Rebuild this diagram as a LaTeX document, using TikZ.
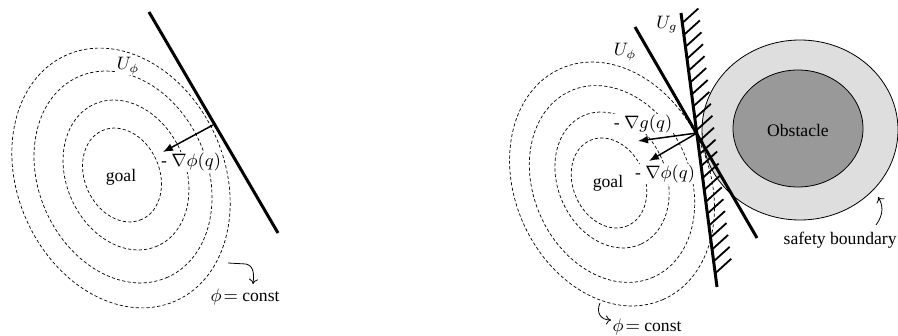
\documentclass[tikz,border=0pt]{standalone}
\usepackage{fontspec}
\setmainfont{Liberation Serif}
\usetikzlibrary{arrows.meta,calc}
\definecolor{safetygray}{gray}{0.87}
\definecolor{obstgray}{gray}{0.60}
\begin{document}
\begin{tikzpicture}[x=0.5pt,y=-0.5pt,
  contour/.style={line width=0.35pt, dash pattern=on 1.6pt off 1.1pt},
  wall/.style={line width=1.5pt},
  hatchline/.style={line width=0.9pt},
  grad/.style={line width=0.75pt,-{Latex[length=5pt,width=4pt]}},
  note/.style={line width=0.4pt,-{To[length=2.5pt,width=4.5pt]}},
  lbl/.style={inner sep=1pt, font=\fontsize{8.8}{10}\selectfont},
  wlbl/.style={lbl, fill=white, inner sep=0.5pt},
  disk/.style={line width=0.4pt}
]
\useasboundingbox (0,0) rectangle (898,336);

% ---------------- left figure ----------------
\foreach \cx/\cy/\a/\b in {122/175/48.6/37.4, 126/175/77.6/59.6, 123/177/109.7/84.3, 121/178/134.5/103.4}{
  \draw[contour, rotate around={-66:(\cx,\cy)}] (\cx,\cy) ellipse [x radius=\a, y radius=\b];
}
\coordinate (lwA) at (149,12);
\coordinate (lwB) at (278,233);
\draw[wall] (lwA) -- (lwB);

\node[wlbl] (lU) at (128,66) {$U_\phi$};
\node[lbl] (lgoal) at (121,177) {goal};
\node[wlbl] (lgrad) at (191,162) {-\ $\nabla\phi(q)$};
\node[lbl] (lconst) at (245,297) {$\phi\!=$ const};

\coordinate (lp) at (213,125);
\coordinate (lt) at (163,152);
\draw[grad] (lp) -- (lt);

\coordinate (lcs) at (228,263);
\coordinate (lcm) at (246,264);
\coordinate (lce) at (253,284);
\draw[note] (lcs) -- (lcm) .. controls (254,266) and (254,274) .. (lce);

% ---------------- right figure ----------------
\draw[disk, fill=safetygray] (800,130) ellipse [x radius=98, y radius=90];
\draw[disk, fill=obstgray] (798,128.5) ellipse [x radius=65, y radius=58.5];

\foreach \cx/\cy/\a/\b in {609/183/46.6/35.8, 612/180/70.4/54.1, 612/184/101.9/78.3, 612/184/126.3/97.0}{
  \draw[contour, rotate around={-66:(\cx,\cy)}] (\cx,\cy) ellipse [x radius=\a, y radius=\b];
}

\coordinate (pwA) at (635,27);
\coordinate (pwB) at (757,238);
\coordinate (gwA) at (681,13);
\coordinate (gwB) at (717,287);
\foreach \t in {0.0365,0.0800,...,0.96}{
  \draw[hatchline] ($(gwA)!\t!(gwB)$) -- ++(16,-14.5);
}
\draw[wall] (pwA) -- (pwB);
\draw[wall] (gwA) -- (gwB);

\node[lbl] (rUg) at (667,25) {$U_g$};
\node[lbl] (rUp) at (625,52) {$U_\phi$};
\node[wlbl] (rgg) at (643,124) {-\ $\nabla g(q)$};
\node[wlbl] (rgp) at (665,174) {-\ $\nabla\phi(q)$};
\node[lbl] (rgoal) at (608,183) {goal};
\node[lbl] (robst) at (798,130) {Obstacle};
\node[lbl, anchor=east, inner sep=0pt] (rsafe) at (897,240) {safety boundary};
\node[lbl] (rconst) at (647,327) {$\phi\!=$ const};

\coordinate (rp) at (697,133);
\coordinate (rtg) at (638,141);
\coordinate (rtp) at (649,161);
\draw[grad] (rp) -- (rtg);
\draw[grad] (rp) -- (rtp);

\coordinate (rss) at (876,225);
\coordinate (rse) at (878,197);
\draw[note] (rss) .. controls (884,214) and (883,205) .. (rse);

\coordinate (rcs) at (600,303);
\coordinate (rce) at (611,320);
\draw[note] (rcs) .. controls (596,312) and (600,320) .. (rce);
\end{tikzpicture}
\end{document}
